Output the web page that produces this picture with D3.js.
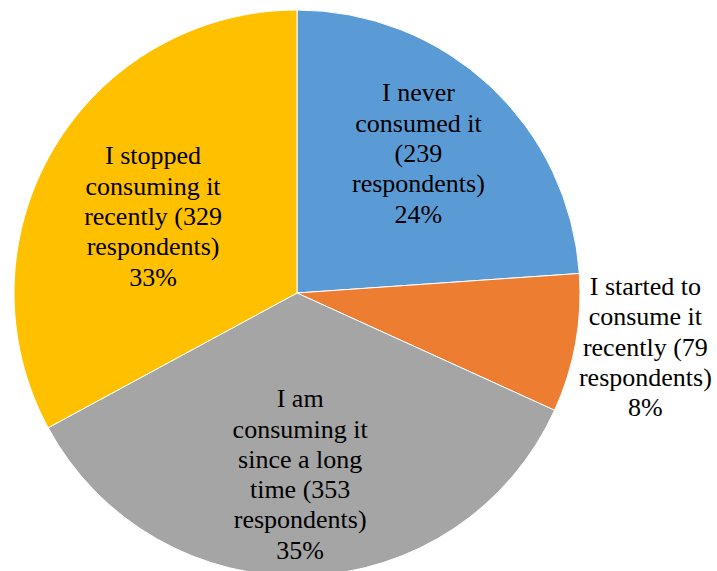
<!DOCTYPE html>
<html>
<head>
<meta charset="utf-8">
<script src="https://cdn.jsdelivr.net/npm/d3@7"></script>
</head>
<body style="margin:0">
<svg id="chart" width="717" height="571"></svg>
<script>
// Survey answers, clockwise from 12 o'clock
const categories = [
  "I never consumed it",
  "I started to consume it recently",
  "I am consuming it since a long time",
  "I stopped consuming it recently"
];
const respondents = [239, 79, 353, 329];
const colors = ["#5B9BD5", "#ED7D31", "#A5A5A5", "#FFC000"];

const cx = 297, cy = 293, radius = 283;
const labelFont = "Liberation Serif";
const labelSize = 26, lineHeight = 30.3, wrapWidth = 148;

// label anchor: radius of the label ring, and a small nudge per slice
const labelRadius = [178, 352, 178, 178];
const labelNudge = [[0, -10], [2, -9], [-3, 3], [9, 14]];

const total = d3.sum(respondents);
const pct = d3.format(".0%");

const data = categories.map((c, i) => ({
  category: c, count: respondents[i], color: colors[i], index: i
}));

const svg = d3.select("#chart");
const g = svg.append("g").attr("transform", `translate(${cx},${cy})`);

const pie = d3.pie().sort(null).value(d => d.count);
const arcs = pie(data);
const arc = d3.arc().innerRadius(0).outerRadius(radius);

g.selectAll("path.slice")
  .data(arcs)
  .join("path")
  .attr("class", "slice")
  .attr("d", arc)
  .attr("fill", d => d.data.color)
  .attr("stroke", "#fff")
  .attr("stroke-width", 1);

// width of a string in the label font
function textWidth(str) {
  const probe = svg.append("text")
    .attr("font-family", labelFont)
    .attr("font-size", labelSize)
    .text(str);
  const w = probe.node().getComputedTextLength();
  probe.remove();
  return w;
}

// greedy word wrap
function wrapWords(text) {
  const words = text.split(" ");
  const lines = [];
  let line = "";
  for (const w of words) {
    const test = line ? line + " " + w : w;
    if (line && textWidth(test) > wrapWidth) {
      lines.push(line);
      line = w;
    } else {
      line = test;
    }
  }
  if (line) lines.push(line);
  return lines;
}

arcs.forEach(a => {
  const i = a.data.index;
  const la = d3.arc().innerRadius(labelRadius[i]).outerRadius(labelRadius[i]);
  const [x0, y0] = la.centroid(a);
  const x = cx + x0 + labelNudge[i][0], y = cy + y0 + labelNudge[i][1];
  const lines = wrapWords(`${a.data.category} (${a.data.count} respondents)`);
  lines.push(pct(a.data.count / total));
  const n = lines.length;
  lines.forEach((ln, k) => {
    // centre each line by hand from its measured width
    svg.append("text")
      .attr("font-family", labelFont)
      .attr("font-size", labelSize)
      .attr("x", x - textWidth(ln) / 2)
      .attr("y", y + (k - (n - 1) / 2) * lineHeight + labelSize * 0.35)
      .text(ln);
  });
});
</script>
</body>
</html>
